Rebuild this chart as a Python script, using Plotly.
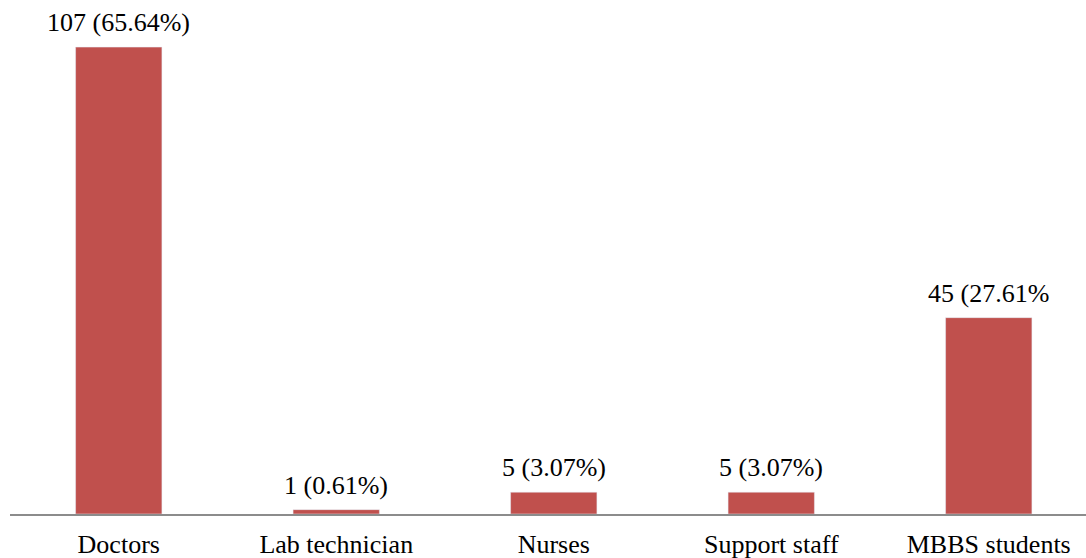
import plotly.graph_objects as go

categories = ["Doctors", "Lab technician", "Nurses", "Support staff", "MBBS students"]
counts = [107, 1, 5, 5, 45]
bar_labels = ["107 (65.64%)", "1 (0.61%)", "5 (3.07%)", "5 (3.07%)", "45 (27.61%"]

BAR_COLOR = "#C0504D"
FONT = "Times New Roman"

positions = list(range(len(categories)))

fig = go.Figure()
fig.add_trace(go.Bar(
    x=positions,
    y=counts,
    width=0.397,
    marker_color=BAR_COLOR,
))

for xp, v, lab in zip(positions, counts, bar_labels):
    fig.add_annotation(
        x=xp, y=v, text=lab, showarrow=False,
        xanchor="center", yanchor="bottom", yshift=8,
        font=dict(family=FONT, size=26, color="black"),
    )

fig.update_layout(
    width=1086, height=558,
    margin=dict(l=10, r=0, t=0, b=44),
    paper_bgcolor="white", plot_bgcolor="white",
    showlegend=False,
    xaxis=dict(
        range=[-0.5, -0.5 + 1076 / 217.5],
        tickmode="array", tickvals=positions, ticktext=categories,
        showgrid=False, zeroline=False, automargin=False,
        showline=True, linecolor="#8c8c8c", linewidth=2,
        ticks="outside", ticklen=6, tickcolor="white",
        tickfont=dict(family=FONT, size=26, color="black"),
    ),
    yaxis=dict(
        range=[0, 117.8], showticklabels=False, showgrid=False,
        zeroline=False, automargin=False,
    ),
)

fig.write_html("out.html")
